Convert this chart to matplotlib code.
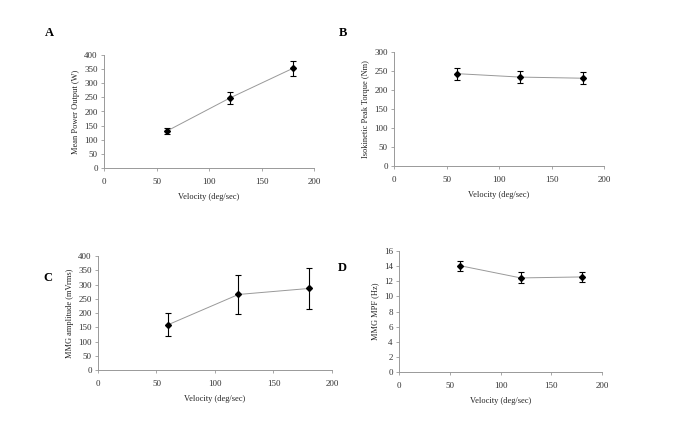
import matplotlib
matplotlib.use('Agg')
import matplotlib.pyplot as plt

plt.rcParams['font.family'] = ['Liberation Serif', 'DejaVu Serif']

velocity = [60, 120, 180]

power = [131, 248, 353]
power_err = [10, 22, 27]

torque = [243, 234, 231]
torque_err = [16, 16, 16]

mmg_amp = [159, 265, 286]
mmg_amp_err = [41, 67, 71]

mmg_mpf = [14.06, 12.44, 12.57]
mmg_mpf_err = [0.64, 0.73, 0.64]

W, H = 685, 440
fig = plt.figure(figsize=(W / 100, H / 100), dpi=100)


def box(left, right, top, bottom):
    return [left / W, 1 - bottom / H, (right - left) / W, (bottom - top) / H]


panels = [
    ('A', box(104, 314, 55, 168), power, power_err, 'Mean Power Output (W)', 400, 50, (49, 33)),
    ('B', box(394, 604, 52, 166), torque, torque_err, 'Isokinetic Peak Torque (Nm)', 300, 50, (343, 33)),
    ('C', box(98, 332, 256, 370), mmg_amp, mmg_amp_err, 'MMG amplitude (mVrms)', 400, 50, (48, 278)),
    ('D', box(399, 602, 251, 372), mmg_mpf, mmg_mpf_err, 'MMG MPF (Hz)', 16, 2, (342, 268)),
]

for letter, rect, vals, errs, ylabel, ymax, ystep, pos in panels:
    ax = fig.add_axes(rect)
    ax.plot(velocity, vals, color='#999999', linewidth=0.7, zorder=1)
    ax.errorbar(velocity, vals, yerr=errs, fmt='D', color='black', markersize=3,
                ecolor='black', elinewidth=0.8, capsize=2.5, capthick=0.8, zorder=2)
    ax.set_xlim(0, 200)
    ax.set_ylim(0, ymax)
    ax.set_xticks([0, 50, 100, 150, 200])
    ax.set_yticks(list(range(0, ymax + 1, ystep)))
    for s in ['top', 'right']:
        ax.spines[s].set_visible(False)
    for s in ['left', 'bottom']:
        ax.spines[s].set_color('#999999')
        ax.spines[s].set_linewidth(0.7)
    ax.tick_params(labelsize=6.5, length=2.5, width=0.6, color='#999999',
                   labelcolor='#333333', pad=2)
    ax.tick_params(axis='x', pad=5)
    ax.set_xlabel('Velocity (deg/sec)', fontsize=6, labelpad=5, color='#222222')
    ax.set_ylabel(ylabel, fontsize=6, labelpad=3, color='#222222')
    fig.text(pos[0] / W, 1 - pos[1] / H, letter, fontsize=9, fontweight='bold',
             ha='center', va='center')

fig.savefig('out.png', dpi=100)
